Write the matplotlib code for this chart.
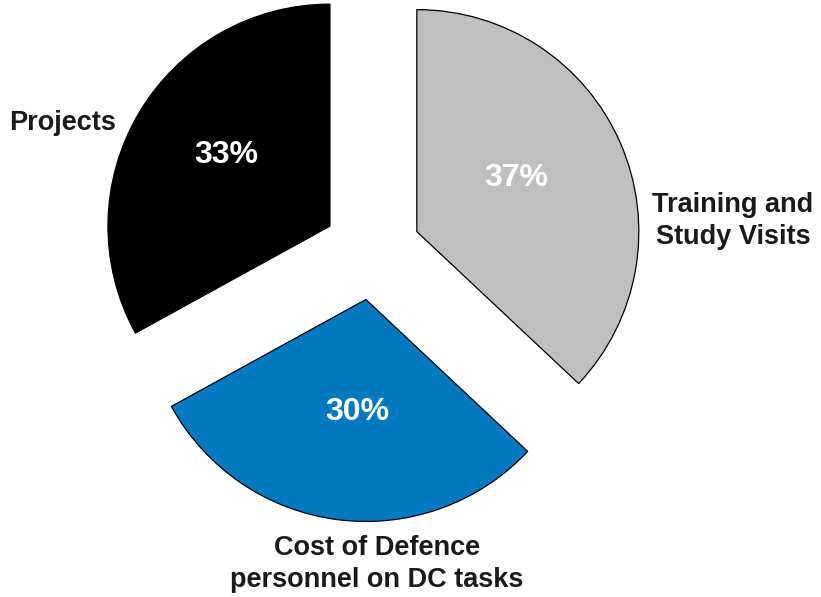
import matplotlib
matplotlib.use("Agg")
import matplotlib.pyplot as plt

plt.rcParams['font.family'] = ['Liberation Sans', 'DejaVu Sans']

categories = ["Training and\nStudy Visits", "Cost of Defence\npersonnel on DC tasks", "Projects"]
values = [37, 30, 33]
colors = ["#BFBFBF", "#0079C1", "#000000"]
pct_labels = ["37%", "30%", "33%"]

# layout (data units, pie radius = 1)
label_pos = [(1.626, 0.135), (0.023, -1.41), (-1.392, 0.577)]
pct_pos = [(0.649, 0.329), (-0.068, -0.725), (-0.658, 0.432)]

fig = plt.figure(figsize=(8.21, 5.97), dpi=100)
ax = fig.add_axes([0, 0, 1, 1])
wedges, texts = ax.pie(values, colors=colors, startangle=90, counterclock=False,
                       explode=[0.22] * 3, center=(0, 0), radius=1,
                       wedgeprops=dict(edgecolor="black", linewidth=0.9))
for t in texts:
    t.set_visible(False)

for lab, (x, y) in zip(categories, label_pos):
    ax.text(x, y, lab, ha="center", va="center", fontsize=19.5, fontweight="bold",
            color="#1a1a1a", multialignment="center", linespacing=1.3)
for lab, (x, y) in zip(pct_labels, pct_pos):
    ax.text(x, y, lab, ha="center", va="center", fontsize=23, fontweight="bold",
            color="white")

ax.set_xlim(-372 / 222, (821 - 372) / 222)
ax.set_ylim((251 - 597) / 222, 251 / 222)
ax.set_aspect("auto")
ax.axis("off")
fig.savefig("out.png", dpi=100)
